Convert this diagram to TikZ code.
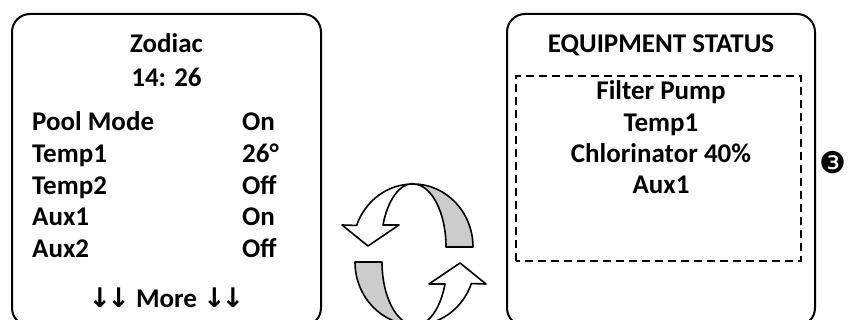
\documentclass[tikz,border=0pt]{standalone}
\usepackage{fontspec}
\setmainfont{Carlito}
\newfontfamily\symfont{DejaVu Sans}

% one half of the turning arrow (ellipse centre at 413,73)
\newcommand{\turnhalf}{%
	\draw[ribbonback] (473,73)
		arc[start angle=0, end angle=90, x radius=60, y radius=63]
		arc[start angle=90, end angle=0, x radius=33, y radius=63] -- cycle;
	\draw[ribbonfront] (413,136)
		arc[start angle=90, end angle=160, x radius=60, y radius=63]
		-- (342,95) -- (368,74) -- (399,95) -- (383,95)
		arc[start angle=160, end angle=90, x radius=32, y radius=63] -- cycle;
}
% the two small down arrows
\newcommand{\dnarrows}{{\symfont\fontsize{27}{27}\selectfont ↓\kern-4pt↓}}

\begin{document}
\begin{tikzpicture}[x=1pt,y=1pt,
		screen/.style={line width=2pt, rounded corners=18pt},
		lbl/.style={font=\bfseries\fontsize{27}{32}\selectfont, inner sep=0pt},
		ribbonfront/.style={draw, line width=1.6pt, fill=white, line join=round},
		ribbonback/.style={ribbonfront, fill=black!20}]
	\useasboundingbox (0,0) rectangle (849,320);
	\clip (0,0) rectangle (849,320);

	% left screen
	\draw[screen] (12,-6) rectangle (321,306);
	\node[lbl, anchor=base] (brand) at (166.5,267) {Zodiac};
	\node[lbl, anchor=base] (clock) at (166.5,233) {14: 26};
	\node[lbl, anchor=base west] (mode)  at (32,189) {Pool Mode};
	\node[lbl, anchor=base west] (tone)  at (32,157) {Temp1};
	\node[lbl, anchor=base west] (ttwo)  at (32,125) {Temp2};
	\node[lbl, anchor=base west] (aone)  at (32,94)  {Aux1};
	\node[lbl, anchor=base west] (atwo)  at (32,62)  {Aux2};
	\node[lbl, anchor=base west] (modev) at (242,189) {On};
	\node[lbl, anchor=base west] (tonev) at (242,157) {26°};
	\node[lbl, anchor=base west] (ttwov) at (242,125) {Off};
	\node[lbl, anchor=base west] (aonev) at (242,94)  {On};
	\node[lbl, anchor=base west] (atwov) at (242,62)  {Off};
	\node[lbl, anchor=base] (more) at (166.5,12) {\dnarrows{} More \dnarrows};

	% turning arrows
	\turnhalf
	\begin{scope}[rotate around={180:(414,65.5)}]
		\turnhalf
	\end{scope}

	% right screen
	\draw[screen] (507,-6) rectangle (815,306);
	\draw[line width=2pt, dash pattern=on 8pt off 5pt] (516,59) rectangle (801,244);
	\node[lbl, anchor=base] (title)  at (661,267) {EQUIPMENT STATUS};
	\node[lbl, anchor=base] (pump)   at (661,220) {Filter Pump};
	\node[lbl, anchor=base] (heat)   at (661,188) {Temp1};
	\node[lbl, anchor=base] (chlor)  at (661,157) {Chlorinator 40\%};
	\node[lbl, anchor=base] (aux)    at (661,126) {Aux1};
	\node[inner sep=0pt] (three) at (833,157) {\symfont\fontsize{30}{30}\selectfont ❸};
\end{tikzpicture}
\end{document}
